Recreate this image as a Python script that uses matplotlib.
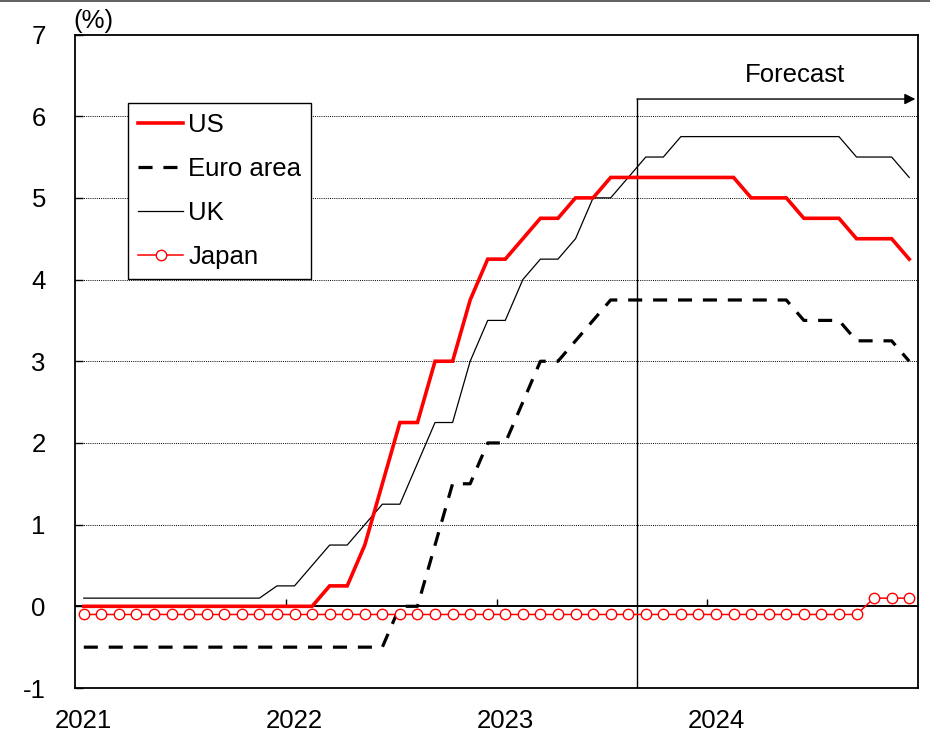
import matplotlib
matplotlib.use("Agg")
import matplotlib.pyplot as plt
from matplotlib.lines import Line2D
import numpy as np

plt.rcParams['font.family'] = ['Liberation Sans', 'DejaVu Sans']
plt.rcParams['axes.unicode_minus'] = False

# Policy rates, monthly Jan 2021 - Dec 2024 (%)
us = [0.0] * 14 + [0.25, 0.25, 0.75, 1.5, 2.25, 2.25, 3.0, 3.0, 3.75, 4.25, 4.25,
                   4.5, 4.75, 4.75, 5.0, 5.0] + [5.25] * 8 + [5.0] * 3 + [4.75] * 3 + [4.5] * 3 + [4.25]
euro = [-0.5] * 18 + [0.0, 0.0, 0.75, 1.5, 1.5, 2.0, 2.0, 2.5, 3.0, 3.0, 3.25, 3.5] \
       + [3.75] * 11 + [3.5] * 3 + [3.25] * 3 + [3.0]
uk = [0.1] * 11 + [0.25, 0.25, 0.5, 0.75, 0.75, 1.0, 1.25, 1.25, 1.75, 2.25, 2.25, 3.0,
                   3.5, 3.5, 4.0, 4.25, 4.25, 4.5, 5.0, 5.0, 5.25, 5.5, 5.5] \
     + [5.75] * 10 + [5.5] * 3 + [5.25]
japan = [-0.1] * 45 + [0.1] * 3

years = ["2021", "2022", "2023", "2024"]
first_forecast_month = 32  # Sep 2023

FS = 18.5
x = np.arange(len(us))

fig = plt.figure(figsize=(9.3, 7.32), dpi=100)
ax = fig.add_axes([75 / 930, 44 / 732, 843 / 930, 653.5 / 732])

ax.plot(x, us, color="#ff0000", lw=2.6, label="US", zorder=5, solid_joinstyle="miter")
ax.plot(x, euro, color="black", lw=2.3, ls=(0, (4.4, 3.4)), dash_capstyle="butt",
        label="Euro area", zorder=4)
ax.plot(x, uk, color="black", lw=0.9, label="UK", zorder=4)
ax.plot(x, japan, color="#ff0000", lw=1.1, marker="o", ms=7.5, mfc="white",
        mec="#ff0000", mew=1.0, label="Japan", zorder=6)

ax.set_xlim(-0.5, len(us) - 0.5)
ax.set_ylim(-1, 7)

# y axis
ax.set_yticks(range(-1, 8))
ax.tick_params(axis="y", direction="in", length=6, width=1, pad=21, labelsize=FS)
for v in range(1, 7):
    ax.axhline(v, color="black", lw=0.7, ls=(0, (1, 1.2)), zorder=1)
ax.axhline(0, color="black", lw=1.4, zorder=3)

# x axis: year labels under January, ticks at year boundaries on the zero line
ax.set_xticks(np.arange(0, len(us), 12))
ax.set_xticklabels(years)
ax.tick_params(axis="x", length=0, pad=15, labelsize=FS)
ax.vlines(np.arange(11.5, len(us) - 1, 12), 0, 0.09, color="black", lw=1.0, zorder=3)

for s in ax.spines.values():
    s.set_linewidth(1.3)
    s.set_color("black")

# forecast marker
fx = first_forecast_month - 0.5
ax.plot([fx, fx], [-1, 6.21], color="black", lw=1.0, zorder=2)
ax.annotate("", xy=(47.35, 6.21), xytext=(fx, 6.21),
            arrowprops=dict(arrowstyle="-|>", color="black", lw=1.0,
                            mutation_scale=16, shrinkA=0, shrinkB=0))
ax.text(40.5, 6.5, "Forecast", fontsize=FS, ha="center", va="center")

leg = ax.legend(loc="upper left", bbox_to_anchor=(0.0632, 0.8947), borderaxespad=0,
                fontsize=FS, handlelength=1.75, handletextpad=0.2, labelspacing=0.78,
                borderpad=0.38, fancybox=False, framealpha=1, edgecolor="black")
leg.get_frame().set_linewidth(1.0)

fig.text(93 / 930, 1 - 21 / 732, "(%)", fontsize=FS, ha="center", va="center")
fig.add_artist(Line2D([0, 1], [1 - 0.7 / 732, 1 - 0.7 / 732], color="#606060", lw=1.4,
                      transform=fig.transFigure))

fig.savefig("out.png", dpi=100)
